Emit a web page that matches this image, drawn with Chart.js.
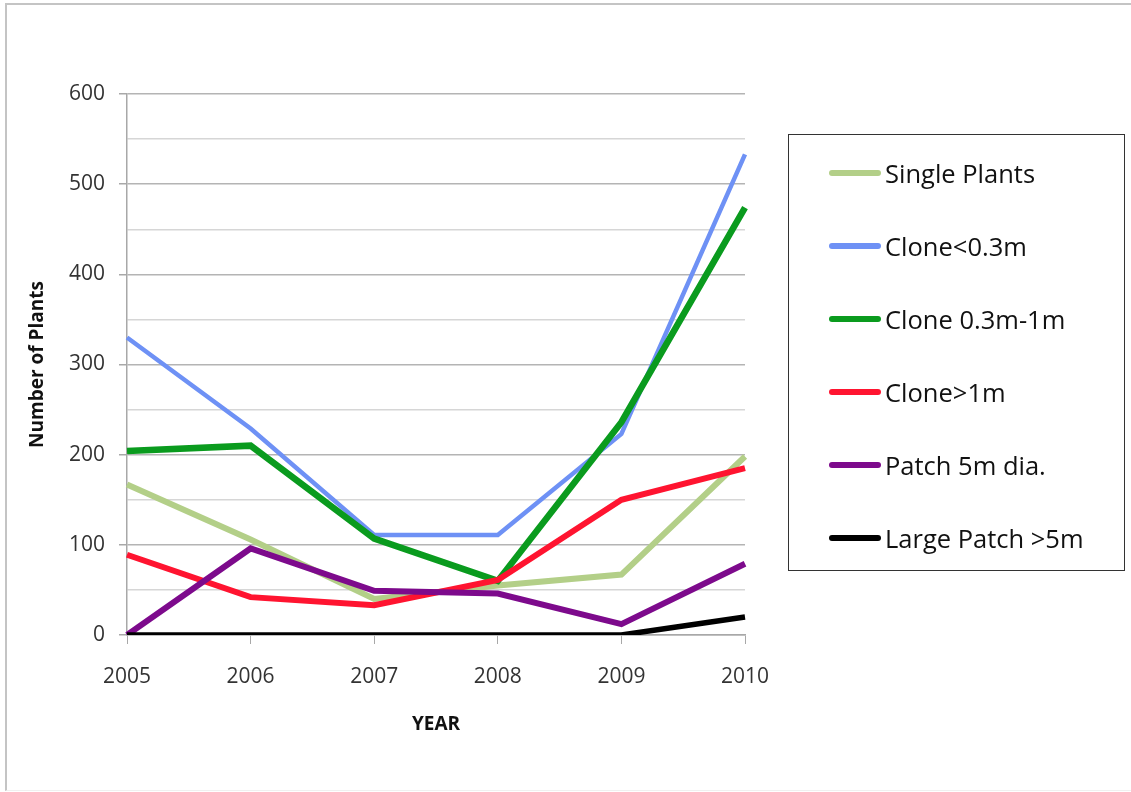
<!DOCTYPE html>
<html>
<head>
<meta charset="utf-8">
<script src="https://cdn.jsdelivr.net/npm/chart.js@4.4.1/dist/chart.umd.min.js"></script>
<style>
  html, body { margin: 0; padding: 0; background: #fff; }
  body { width: 1131px; height: 792px; position: relative; overflow: hidden; font-family: "Open Sans", sans-serif; }
  #frame { position: absolute; left: 5px; top: 3px; width: 1140px; height: 785px;
    border-left: 2px solid #c4c4c4; border-top: 2px solid #c4c4c4; border-bottom: 1px solid #f0f0f0; }
  #wrap { position: absolute; left: 0; top: 0; width: 1131px; height: 792px; }
  #legend { position: absolute; left: 788px; top: 134px; width: 337px; height: 437px;
    border: 1.5px solid #333; box-sizing: border-box; }
  .lg-item { position: absolute; left: 40px; display: flex; align-items: center; height: 34px; }
  .lg-line { width: 52px; height: 6px; border-radius: 3px; margin-right: 4px; }
  .lg-text { font-size: 25.5px; color: #111; white-space: nowrap; }
</style>
</head>
<body>
<div id="frame"></div>
<div id="wrap"><canvas id="chart" width="1131" height="792"></canvas></div>
<div id="legend"></div>
<script>
// ---- Data ----
const years = ["2005", "2006", "2007", "2008", "2009", "2010"];
const seriesNames = ["Single Plants", "Clone<0.3m", "Clone 0.3m-1m", "Clone>1m", "Patch 5m dia.", "Large Patch >5m"];
const singlePlants = [167, 106, 40, 55, 67, 198];
const cloneSmall = [330, 229, 111, 111, 223, 533];
const cloneMid = [204, 210, 107, 60, 236, 474];
const cloneLarge = [89, 42, 33, 61, 150, 185];
const patch5m = [0, 96, 49, 46, 12, 79];
const largePatch = [0, 0, 0, 0, 0, 20];
const yTicks = [0, 100, 200, 300, 400, 500, 600];

const colors = ["#b3cf88", "#6e91f5", "#0a9b1e", "#ff1430", "#7d0a8c", "#000000"];
const widths = [6, 4.5, 6.5, 6, 6, 5.5];
const values = [singlePlants, cloneSmall, cloneMid, cloneLarge, patch5m, largePatch];

// ---- Chart ----
const datasets = seriesNames.map((name, i) => ({
  label: name, data: values[i], borderColor: colors[i], backgroundColor: colors[i],
  borderWidth: widths[i], pointRadius: 0, tension: 0, fill: false,
  order: seriesNames.length - i, // later series drawn on top, like the original
}));

Chart.defaults.font.family = '"Open Sans", sans-serif';
Chart.defaults.color = "#333";

new Chart(document.getElementById("chart").getContext("2d"), {
  type: "line",
  data: { labels: years, datasets },
  options: {
    responsive: false, animation: false,
    layout: { padding: { left: 22, top: 94, right: 386, bottom: 56 } },
    plugins: { legend: { display: false }, tooltip: { enabled: false } },
    scales: {
      x: {
        offset: false,
        grid: { drawOnChartArea: false, drawTicks: true, tickLength: 9, color: "#a8a8a8" },
        border: { color: "#a8a8a8", width: 1.5 },
        ticks: { font: { size: 21 }, color: "#333", padding: 20, maxRotation: 0 },
        title: { display: true, text: "YEAR", font: { size: 19, weight: "bold" }, color: "#111", padding: { top: 0, bottom: 0 } },
        afterFit: (s) => { s.height = 101; },
      },
      y: {
        min: 0, max: 600,
        grid: {
          color: (c) => (c.tick && c.tick.value % 100 === 0 ? "#b4b4b4" : "#d6d6d6"),
          tickColor: (c) => (c.tick && c.tick.value % 100 === 0 ? "#a8a8a8" : "rgba(0,0,0,0)"),
          tickLength: 8, lineWidth: 1.5,
        },
        border: { color: "#a8a8a8", width: 1.5 },
        ticks: {
          stepSize: 50, font: { size: 21 }, color: "#333", padding: 14,
          callback: (v) => (yTicks.includes(v) ? String(v) : ""),
        },
        title: { display: true, text: "Number of Plants", font: { size: 19, weight: "bold" }, color: "#111", padding: { bottom: 16 } },
        afterFit: (s) => { s.width = 105; },
      },
    },
  },
});

// ---- Legend ----
const legend = document.getElementById("legend");
seriesNames.forEach((name, i) => {
  const item = document.createElement("div");
  item.className = "lg-item";
  item.style.top = (21 + i * 73) + "px";
  item.innerHTML = `<div class="lg-line" style="background:${colors[i]}"></div><span class="lg-text">${name}</span>`;
  legend.appendChild(item);
});
</script>
</body>
</html>
